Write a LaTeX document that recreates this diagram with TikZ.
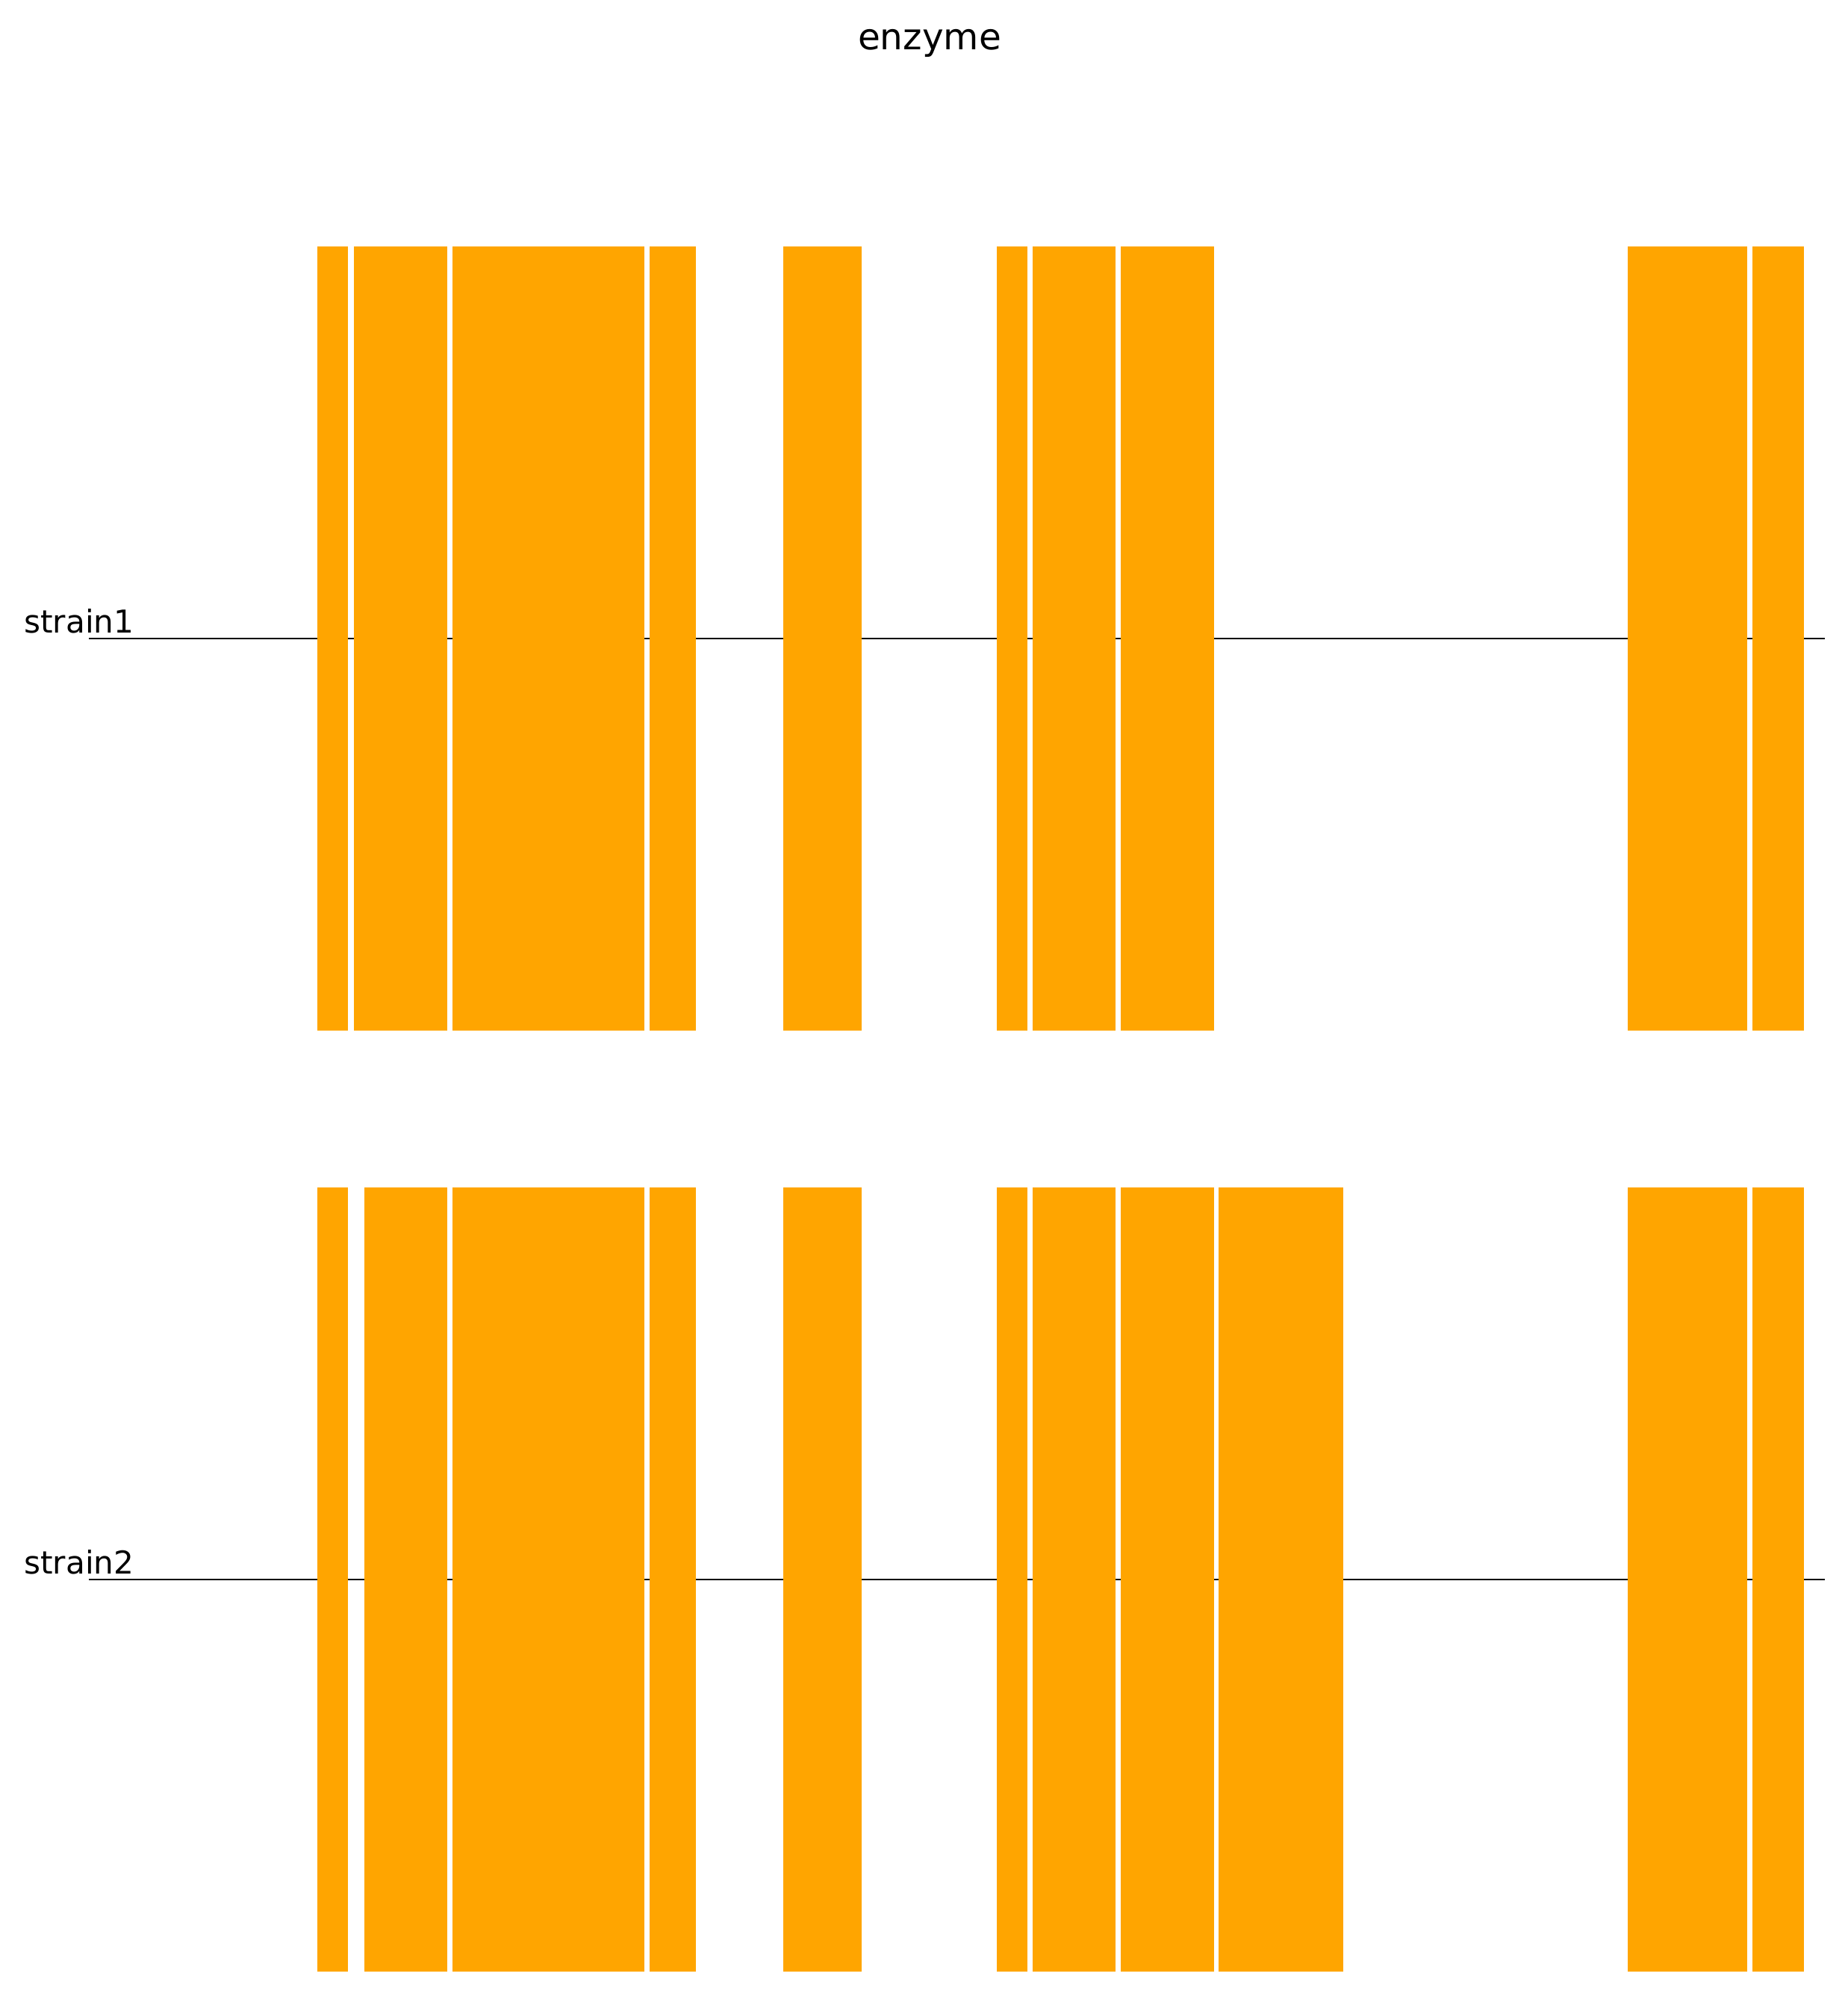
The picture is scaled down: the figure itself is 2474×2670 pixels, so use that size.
\documentclass[tikz,border=0pt]{standalone}
\usepackage{fontspec}
\setmainfont{DejaVu Sans}
\usepackage{xcolor}
\definecolor{exon}{HTML}{FFA500}

\begin{document}
\begin{tikzpicture}[x=0.01cm,y=-0.01cm,ex/.style={fill=exon},trk/.style={draw=black,line width=0.5pt},lab/.style={anchor=base west,font=\fontsize{12}{14}\selectfont}]
\useasboundingbox (0,0) rectangle (2474,2670);
\node[anchor=base,font=\fontsize{13.8}{16}\selectfont] (title) at (1245,67) {enzyme};
\coordinate (a1) at (119,855); \coordinate (b1) at (2444,855);
\coordinate (a2) at (119,2115); \coordinate (b2) at (2444,2115);
\draw[trk] (a1)--(b1);
\draw[trk] (a2)--(b2);
\node[lab] (s1) at (20,847) {strain1};
\node[lab] (s2) at (20,2107) {strain2};
\foreach \xa/\xb in {425/466,473.5/599,606/863,870/932,1049/1154,1335/1375.5,1382.5/1493.5,1500.5/1625.5,2180/2340,2347/2416}
  \fill[ex] (\xa,330) rectangle (\xb,1380);
\foreach \xa/\xb in {425/466,487.5/599,606/863,870/932,1049/1154,1335/1375.5,1382.5/1493.5,1500.5/1625.5,1632/1799,2180/2340,2347/2416}
  \fill[ex] (\xa,1590) rectangle (\xb,2640);
\end{tikzpicture}
\end{document}
